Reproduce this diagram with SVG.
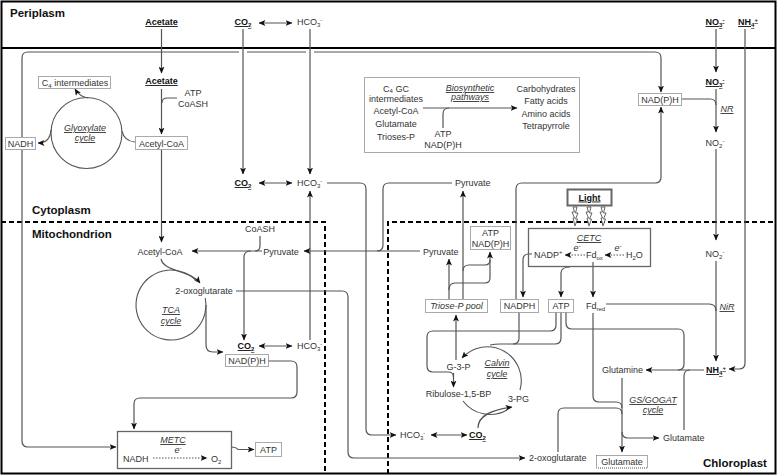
<svg xmlns="http://www.w3.org/2000/svg" width="778" height="476" viewBox="0 0 778 476">
<style>
text{font-family:"Liberation Sans",Arial,sans-serif;font-size:9px;fill:#333}
.b{font-weight:bold;text-decoration:underline;fill:#111}
.i{font-style:italic;text-decoration:underline}
.it{font-style:italic}
.m{text-anchor:middle}
.h{font-weight:bold;font-size:11.5px;fill:#111}
.sb{font-size:6px}
.ln{fill:none;stroke:#555;stroke-width:1.2}
.ar{marker-end:url(#ah)}
.bi{marker-start:url(#ah);marker-end:url(#ah)}
.dt{stroke-dasharray:1.5 1.5}
.bx{fill:#fff;stroke:#555;stroke-width:1;stroke-dasharray:1 1}
.sx{fill:none;stroke:#666;stroke-width:1.3}
.cyc{fill:none;stroke:#555;stroke-width:1.1}
.zone{fill:none;stroke:#000;stroke-width:2}
.dash{fill:none;stroke:#000;stroke-width:2;stroke-dasharray:5 3}
.bolt{fill:#fff;stroke:#555;stroke-width:0.9}
</style>
<defs>
<marker id="ah" viewBox="0 0 8 7" refX="7.5" refY="3.5" markerWidth="7" markerHeight="6" markerUnits="userSpaceOnUse" orient="auto-start-reverse"><path d="M0,0 L8,3.5 L0,7 L2,3.5 z" fill="#111"/></marker>
</defs>
<rect width="778" height="476" fill="#fff"/>
<g id="compartments">
<rect class="zone" x="1.5" y="1.5" width="774" height="472"/>
<path class="zone" d="M1,48 H776"/>
<path class="dash" d="M1,222 H325 V474"/>
<path class="dash" d="M388,474 V222 H776"/>
<text class="h" x="10" y="17">Periplasm</text>
<text class="h" x="32" y="214">Cytoplasm</text>
<text class="h" x="32" y="238">Mitochondrion</text>
<text class="h" x="703" y="467">Chloroplast</text>
</g>
<g id="connectors">
<path class="ln ar" d="M161.5,29 V73"/>
<path class="ln ar" d="M243,29 V174"/>
<path class="ln ar" d="M310,29 V174"/>
<path class="ln bi" d="M259,23 H292"/>
<path class="ln ar" d="M161.5,89 V134"/>
<path class="ln" d="M177,98 H167 Q162,98 162,103"/>
<path class="ln ar" d="M88,98 Q80,97 75,89"/>
<path class="ln ar" d="M51,130 Q50,143 38,143"/>
<path class="ln" d="M122,131 Q124,141 135,142"/>
<path class="ln ar" d="M22,137 V58 Q22,52 28,52 H239 M247,52 H306 M314,52 H655 Q661,52 661,58 V92"/>
<path class="ln ar" d="M22,150 V441 Q22,447 28,447 H116"/>
<path class="ln ar" d="M161.5,150 V242"/>
<path class="ln bi" d="M259,183 H292"/>
<path class="ln ar" d="M327,183 H360 Q366,183 366,189 V429 Q366,435 372,435 H396"/>
<path class="ln ar" d="M310,340 V191"/>
<path class="ln" d="M452,183 H389 Q383,183 383,189 V245 Q383,251 377,251"/>
<path class="ln ar" d="M420,251 H304"/>
<path class="ln ar" d="M262,251 H192"/>
<path class="ln" d="M260,236 V246 Q260,251 255,251"/>
<path class="ln ar" d="M251,251 Q244,251 244,257 V340"/>
<path class="ln ar" d="M161,259 C164,272 190,270 200,283"/>
<path class="cyc" d="M205.3,298 A35,35 0 1 1 197.4,282"/>
<path class="ln ar" d="M206,305 V345 Q206,352 213,352 H223"/>
<path class="ln bi" d="M259,346 H292"/>
<path class="ln ar" d="M268,361 H291 Q297,361 297,367 V392 Q297,398 291,398 H140 Q134,398 134,404 V429"/>
<path class="ln ar" d="M231,447 Q236,447 238,449.5 H254"/>
<path class="ln ar dt" d="M153,458 H207"/>
<path class="ln ar" d="M236,291 H342 Q348,291 348,297 V452 Q348,458 354,458 H525"/>
<path class="ln ar" d="M463,299 V191"/>
<path class="ln ar" d="M449,299 V259"/>
<path class="ln ar" d="M449,290 Q449,283 455,283 H485 Q490,283 490,278 V252"/>
<path class="ln" d="M463,271 Q463,265 469,265 H485 Q490,265 490,260"/>
<path class="ln ar" d="M456,360 V315"/>
<path class="ln ar" d="M453.5,373 V387"/>
<path class="ln" d="M556,312.5 V325 Q556,331 550,331 H433 Q427,331 427,337 V366 Q427,372 433,372 H448 Q453.5,372 453.5,377"/>
<path class="cyc ar" d="M520,390 A34,34 0 0 0 462,358"/>
<path class="cyc" d="M463,401 A34,34 0 0 0 507,410"/>
<path class="ln" d="M561,312.5 V338 Q561,344 555,344 H500 Q495,344 490,345"/>
<path class="ln" d="M519,312.5 V338 Q519,344 513,344"/>
<path class="ln ar" d="M478,428 C478,416 490,410 512,407"/>
<path class="ln bi" d="M431,435 H467"/>
<path class="ln ar" d="M532,254 H529 Q523,254 523,260 V297"/>
<path class="ln ar" d="M570,267 Q561,267 561,273 V297"/>
<path class="ln ar" d="M593,262 V297"/>
<path class="ln ar dt" d="M585,255 H565"/>
<path class="ln ar dt" d="M624,255 H605"/>
<path class="ln ar" d="M516,299 V189 Q516,183 522,183 H655 Q661,183 661,177 V107"/>
<path class="ln" d="M682,99 H710 Q716,99 716,105"/>
<path class="ln ar" d="M716,29 V72"/>
<path class="ln ar" d="M716,89 V132"/>
<path class="ln ar" d="M716,149 V240"/>
<path class="ln ar" d="M716,261 V361"/>
<path class="ln" d="M606,304 H709 Q716,304 716,311"/>
<path class="ln ar" d="M745,29 V363 Q745,369 739,369 H729"/>
<path class="ln ar" d="M704,370 H646"/>
<path class="ln" d="M566,312.5 V323 Q566,329 572,329 H678 Q684,329 684,335 V364 Q684,370 678,370"/>
<path class="ln" d="M684,430 V376 Q684,370 690,370"/>
<path class="ln ar" d="M622,378 V452"/>
<path class="ln" d="M593,313 V396 Q593,402 599,402 H616 Q622,402 622,408"/>
<path class="ln" d="M558,452 V414 Q558,408 564,408 H616 Q622,408 622,414"/>
<path class="ln ar" d="M622,432 Q622,438 628,438 H659"/>
</g>
<g id="acetate-peri"><text class="b m" x="161.5" y="25">Acetate</text></g>
<g id="co2-peri"><text class="b m" x="243" y="25">CO<tspan class="sb" dy="2">2</tspan></text></g>
<g id="hco3-peri"><text x="297" y="25">HCO<tspan class="sb" dy="2">3</tspan><tspan class="sb" dy="-5">-</tspan></text></g>
<g id="no3-peri"><text class="b m" x="715" y="25">NO<tspan class="sb" dy="2">3</tspan><tspan class="sb" dy="-5">-</tspan></text></g>
<g id="nh4-peri"><text class="b m" x="748" y="25">NH<tspan class="sb" dy="2">4</tspan><tspan class="sb" dy="-5">+</tspan></text></g>
<g id="acetate-cyto"><text class="b m" x="161.5" y="84">Acetate</text></g>
<g id="atp-coash"><text class="m" x="193" y="96">ATP</text><text class="m" x="193" y="107">CoASH</text></g>
<g id="c4-intermediates"><rect class="bx" x="38.5" y="76.5" width="72" height="12"/><text class="m" x="75" y="86">C<tspan class="sb" dy="1.5">4</tspan><tspan dy="-1.5"> intermediates</tspan></text></g>
<g id="glyoxylate-cycle"><circle class="cyc" cx="86.5" cy="133" r="35.5"/><text class="i m" x="85" y="131">Glyoxylate</text><text class="i m" x="85" y="141">cycle</text></g>
<g id="nadh-cyto"><rect class="bx" x="5.5" y="137.5" width="30" height="12"/><text class="m" x="20.5" y="147">NADH</text></g>
<g id="acetylcoa-cyto"><rect class="bx" x="135.5" y="136.5" width="52" height="13"/><text class="m" x="161.5" y="146.5">Acetyl-CoA</text></g>
<g id="co2-cyto"><text class="b m" x="243" y="186">CO<tspan class="sb" dy="2">2</tspan></text></g>
<g id="hco3-cyto"><text x="297" y="186">HCO<tspan class="sb" dy="2">3</tspan><tspan class="sb" dy="-5">-</tspan></text></g>
<g id="biosynthesis">
<rect class="bx" x="364.5" y="77.5" width="215" height="75" fill="none"/>
<text class="m" x="396" y="91.5">C<tspan class="sb" dy="1">4</tspan><tspan dy="-1"> GC</tspan></text>
<text class="m" x="396" y="102">intermediates</text>
<text class="m" x="396" y="113.5">Acetyl-CoA</text>
<text class="m" x="396" y="127">Glutamate</text>
<text class="m" x="396" y="140">Trioses-P</text>
<text class="i m" x="470" y="91">Biosynthetic</text>
<text class="i m" x="470" y="100">pathways</text>
<path class="ln ar" d="M423,108 H517"/>
<path class="ln" d="M443,128 V114 Q443,108 449,108"/>
<text class="m" x="443" y="137">ATP</text>
<text class="m" x="443" y="148">NAD(P)H</text>
<text class="m" x="546" y="92">Carbohydrates</text>
<text class="m" x="546" y="104">Fatty acids</text>
<text class="m" x="546" y="117">Amino acids</text>
<text class="m" x="546" y="129">Tetrapyrrole</text>
</g>
<g id="nadph-cyto"><rect class="bx" x="638.5" y="93.5" width="43" height="12"/><text class="m" x="660" y="103">NAD(P)H</text></g>
<g id="no3-cyto"><text class="b m" x="715" y="85">NO<tspan class="sb" dy="2">3</tspan><tspan class="sb" dy="-5">-</tspan></text></g>
<g id="nr"><text class="i m" x="727" y="112">NR</text></g>
<g id="no2-cyto"><text class="m" x="715" y="146">NO<tspan class="sb" dy="2">2</tspan><tspan class="sb" dy="-5">-</tspan></text></g>
<g id="pyruvate-cyto"><text x="455" y="186">Pyruvate</text></g>
<g id="light">
<rect x="567.5" y="189.5" width="44" height="16" fill="#fff" stroke="#666" stroke-width="2"/>
<text class="b m" x="589.5" y="200.5">Light</text>
<polygon class="bolt" points="573,207 577,207 575.5,213 578,213 575.5,219 577.5,219 575,226 573,218 574.5,218 572,212 574.5,212"/>
<polygon class="bolt" points="587,207 591,207 589.5,213 592,213 589.5,219 591.5,219 589,226 587,218 588.5,218 586,212 588.5,212"/>
<polygon class="bolt" points="601,207 605,207 603.5,213 606,213 603.5,219 605.5,219 603,226 601,218 602.5,218 600,212 602.5,212"/>
</g>
<g id="acetylcoa-mito"><text class="m" x="160" y="255">Acetyl-CoA</text></g>
<g id="coash-mito"><text class="m" x="260" y="232">CoASH</text></g>
<g id="pyruvate-mito"><text class="m" x="281" y="255">Pyruvate</text></g>
<g id="tca-cycle"><text class="m" x="204" y="294">2-oxoglutarate</text><text class="i m" x="171" y="313">TCA</text><text class="i m" x="171" y="324">cycle</text></g>
<g id="co2-mito"><text class="b m" x="246" y="349">CO<tspan class="sb" dy="2">2</tspan></text></g>
<g id="hco3-mito"><text x="297" y="349">HCO<tspan class="sb" dy="2">3</tspan><tspan class="sb" dy="-5">-</tspan></text></g>
<g id="nadph-mito"><rect class="bx" x="225.5" y="354.5" width="43" height="12"/><text class="m" x="247" y="364">NAD(P)H</text></g>
<g id="metc">
<rect class="sx" x="117.5" y="431.5" width="114" height="37"/>
<text class="i m" x="173" y="443">METC</text>
<text class="it m" x="178" y="453">e<tspan class="sb" dy="-3">-</tspan></text>
<text x="123" y="462">NADH</text>
<text x="211" y="462">O<tspan class="sb" dy="2">2</tspan></text>
</g>
<g id="atp-mito"><rect class="bx" x="255.5" y="442.5" width="26" height="14"/><text class="m" x="268.5" y="453">ATP</text></g>
<g id="pyruvate-chl"><text x="423" y="255">Pyruvate</text></g>
<g id="atp-nadph-chl"><rect class="bx" x="470.5" y="226.5" width="40" height="23"/><text class="m" x="490.5" y="236">ATP</text><text class="m" x="490.5" y="247">NAD(P)H</text></g>
<g id="cetc">
<rect class="sx" x="528.5" y="228.5" width="122" height="38"/>
<text class="i m" x="589" y="241">CETC</text>
<text x="534" y="258">NADP<tspan class="sb" dy="-4">+</tspan></text>
<text class="it m" x="577" y="251">e<tspan class="sb" dy="-3">-</tspan></text>
<text x="586" y="258">Fd<tspan class="sb" dy="2">ox</tspan></text>
<text class="it m" x="618" y="251">e<tspan class="sb" dy="-3">-</tspan></text>
<text x="626" y="258">H<tspan class="sb" dy="2">2</tspan><tspan dy="-2">O</tspan></text>
</g>
<g id="triose-p-pool"><rect class="bx" x="425.5" y="299.5" width="62" height="13"/><text class="it m" x="456.5" y="309">Triose-P pool</text></g>
<g id="nadph-chl"><rect class="bx" x="500.5" y="299.5" width="38" height="13"/><text class="m" x="519.5" y="309">NADPH</text></g>
<g id="atp-chl"><rect class="bx" x="548.5" y="299.5" width="25" height="13"/><text class="m" x="561" y="309">ATP</text></g>
<g id="fdred"><text x="586" y="309">Fd<tspan class="sb" dy="2">red</tspan></text></g>
<g id="no2-chl"><text class="m" x="715" y="257">NO<tspan class="sb" dy="2">2</tspan><tspan class="sb" dy="-5">-</tspan></text></g>
<g id="nir"><text class="i m" x="727" y="310">NiR</text></g>
<g id="nh4-chl"><text class="b m" x="716" y="373">NH<tspan class="sb" dy="2">4</tspan><tspan class="sb" dy="-5">+</tspan></text></g>
<g id="calvin-cycle">
<text class="m" x="458.5" y="370">G-3-P</text>
<text class="i m" x="497" y="366">Calvin</text>
<text class="i m" x="497" y="377">cycle</text>
<text class="m" x="458.5" y="397">Ribulose-1,5-BP</text>
<text x="508" y="402">3-PG</text>
</g>
<g id="hco3-chl"><text x="400" y="438">HCO<tspan class="sb" dy="2">3</tspan><tspan class="sb" dy="-5">-</tspan></text></g>
<g id="co2-chl"><text class="b m" x="477.5" y="438">CO<tspan class="sb" dy="2">2</tspan></text></g>
<g id="oxoglutarate-chl"><text x="529" y="461">2-oxoglutarate</text></g>
<g id="glutamine"><text x="602" y="373">Glutamine</text></g>
<g id="gs-gogat"><text class="i m" x="653" y="403">GS/GOGAT</text><text class="i m" x="653" y="413">cycle</text></g>
<g id="glutamate-right"><text x="663" y="441">Glutamate</text></g>
<g id="glutamate-box"><rect class="bx" x="596.5" y="455.5" width="51" height="12.5"/><text class="m" x="622" y="465">Glutamate</text></g>
</svg>
